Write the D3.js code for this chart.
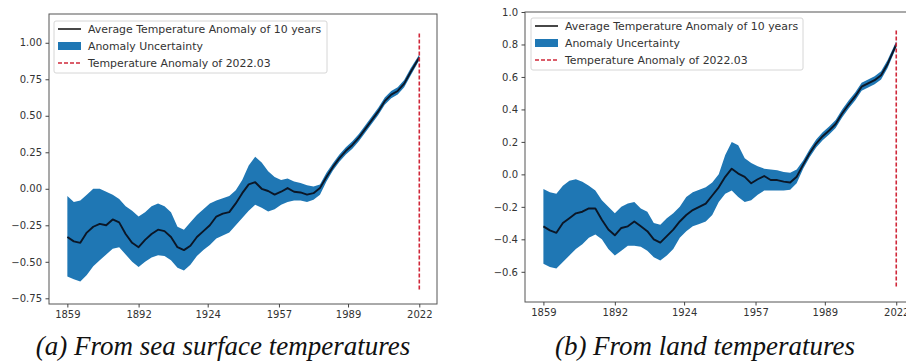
<!DOCTYPE html>
<html>
<head>
<meta charset="utf-8">
<script src="https://cdn.jsdelivr.net/npm/d3@7"></script>
<style>
  body { margin: 0; background: #fff; }
  svg { display: block; }
  .tick text { font-family: "DejaVu Sans", sans-serif; font-size: 10px; fill: #333; }
  .tick line { stroke: #444; }
  .legend text { font-family: "DejaVu Sans", sans-serif; font-size: 10.9px; fill: #333; }
  .caption { font-family: "Liberation Serif", "Times New Roman", serif; font-style: italic; font-size: 27px; fill: #111; }
</style>
</head>
<body>
<div id="chart"></div>
<script>
// sample years (every 3 years) shared by both panels
var years = [1859, 1862, 1865, 1868, 1871, 1874, 1877, 1880, 1883, 1886, 1889, 1892, 1895, 1898,
  1901, 1904, 1907, 1910, 1913, 1916, 1919, 1922, 1925, 1928, 1931, 1934, 1937, 1940, 1943,
  1946, 1949, 1952, 1955, 1958, 1961, 1964, 1967, 1970, 1973, 1976, 1979, 1982, 1985, 1988,
  1991, 1994, 1997, 2000, 2003, 2006, 2009, 2012, 2015, 2018, 2021, 2022];

// (a) sea surface temperatures
var seaMean = [-0.33, -0.36, -0.37, -0.30, -0.26, -0.24, -0.25, -0.21, -0.23, -0.31, -0.37, -0.40, -0.35, -0.31,
  -0.28, -0.29, -0.33, -0.40, -0.42, -0.39, -0.33, -0.29, -0.25, -0.19, -0.17, -0.16, -0.10, -0.03, 0.03,
  0.045, 0.0, -0.015, -0.04, -0.02, 0.005, -0.02, -0.025, -0.04, -0.03, 0.005, 0.08, 0.15, 0.21, 0.26,
  0.30, 0.35, 0.41, 0.47, 0.53, 0.60, 0.645, 0.67, 0.72, 0.80, 0.875, 0.90];
var seaHigh = [-0.05, -0.09, -0.08, -0.04, 0.0, 0.0, -0.02, -0.04, -0.07, -0.12, -0.15, -0.19, -0.16, -0.12,
  -0.10, -0.12, -0.16, -0.26, -0.28, -0.23, -0.18, -0.14, -0.10, -0.08, -0.065, -0.05, -0.01, 0.06, 0.16,
  0.22, 0.18, 0.12, 0.08, 0.06, 0.07, 0.05, 0.04, 0.025, 0.015, 0.03, 0.11, 0.175, 0.235, 0.285,
  0.325, 0.375, 0.435, 0.495, 0.555, 0.625, 0.67, 0.695, 0.745, 0.825, 0.895, 0.92];
var seaLow = [-0.60, -0.62, -0.635, -0.59, -0.53, -0.49, -0.45, -0.41, -0.40, -0.45, -0.50, -0.535, -0.50, -0.47,
  -0.455, -0.46, -0.49, -0.54, -0.56, -0.52, -0.46, -0.42, -0.385, -0.34, -0.32, -0.30, -0.25, -0.20, -0.15,
  -0.11, -0.13, -0.155, -0.14, -0.11, -0.09, -0.08, -0.08, -0.09, -0.075, -0.04, 0.05, 0.125, 0.185, 0.235,
  0.275, 0.325, 0.385, 0.445, 0.505, 0.575, 0.62, 0.645, 0.695, 0.775, 0.855, 0.88];

// (b) land temperatures
var landMean = [-0.32, -0.345, -0.36, -0.30, -0.27, -0.24, -0.23, -0.21, -0.21, -0.28, -0.34, -0.375, -0.33, -0.32,
  -0.29, -0.32, -0.35, -0.40, -0.42, -0.38, -0.34, -0.29, -0.25, -0.22, -0.20, -0.18, -0.13, -0.08, -0.015,
  0.035, 0.005, -0.015, -0.055, -0.03, -0.01, -0.035, -0.035, -0.045, -0.05, -0.015, 0.06, 0.13, 0.19, 0.235,
  0.27, 0.31, 0.375, 0.43, 0.48, 0.54, 0.56, 0.58, 0.61, 0.68, 0.77, 0.80];
var landHigh = [-0.09, -0.11, -0.12, -0.07, -0.04, -0.03, -0.045, -0.07, -0.10, -0.16, -0.20, -0.24, -0.20, -0.18,
  -0.17, -0.21, -0.23, -0.30, -0.31, -0.27, -0.24, -0.20, -0.14, -0.11, -0.095, -0.08, -0.05, 0.0, 0.12,
  0.20, 0.18, 0.10, 0.07, 0.05, 0.035, 0.03, 0.025, 0.015, 0.01, 0.03, 0.085, 0.155, 0.215, 0.26,
  0.295, 0.335, 0.40, 0.455, 0.505, 0.565, 0.585, 0.605, 0.635, 0.705, 0.79, 0.82];
var landLow = [-0.55, -0.57, -0.58, -0.54, -0.50, -0.46, -0.43, -0.39, -0.37, -0.40, -0.46, -0.50, -0.47, -0.44,
  -0.44, -0.445, -0.47, -0.51, -0.53, -0.50, -0.46, -0.39, -0.35, -0.32, -0.305, -0.29, -0.25, -0.17, -0.12,
  -0.10, -0.14, -0.17, -0.16, -0.125, -0.10, -0.10, -0.10, -0.10, -0.095, -0.055, 0.035, 0.105, 0.165, 0.21,
  0.245, 0.285, 0.35, 0.405, 0.455, 0.515, 0.535, 0.555, 0.585, 0.655, 0.75, 0.78];

var xTicks = [1859, 1892, 1924, 1957, 1989, 2022];
var seaYTicks = [-0.75, -0.50, -0.25, 0.00, 0.25, 0.50, 0.75, 1.00];
var landYTicks = [-0.6, -0.4, -0.2, 0.0, 0.2, 0.4, 0.6, 0.8, 1.0];
var markYear = 2022;
var seaMark = [-0.69, 1.07];
var landMark = [-0.69, 0.89];
var legendLabels = ["Average Temperature Anomaly of 10 years", "Anomaly Uncertainty", "Temperature Anomaly of 2022.03"];
var captions = ["(a) From sea surface temperatures", "(b) From land temperatures"];

var svg = d3.select("#chart").append("svg")
  .attr("width", 906)
  .attr("height", 362);

function drawPanel(opt) {
  var g = svg.append("g");

  var x = d3.scaleLinear().domain([1850.5, 2030.2]).range([opt.left, opt.right]);
  var y = d3.scaleLinear().domain(opt.yDomain).range([opt.bottom, opt.top]);

  var rows = years.map(function(yr, i) {
    return { year: yr, mean: opt.mean[i], hi: opt.high[i], lo: opt.low[i] };
  });

  // uncertainty band
  g.append("path")
    .datum(rows)
    .attr("d", d3.area().x(d => x(d.year)).y0(d => y(d.lo)).y1(d => y(d.hi)))
    .attr("fill", "#1f77b4");

  // 10 year average
  g.append("path")
    .datum(rows)
    .attr("d", d3.line().x(d => x(d.year)).y(d => y(d.mean)))
    .attr("fill", "none")
    .attr("stroke", "#0b1626")
    .attr("stroke-width", 1.9)
    .attr("stroke-linejoin", "round");

  // marker for 2022.03
  g.append("line")
    .attr("x1", x(markYear)).attr("x2", x(markYear))
    .attr("y1", y(opt.mark[0])).attr("y2", y(opt.mark[1]))
    .attr("stroke", "#d0283a")
    .attr("stroke-width", 1.6)
    .attr("stroke-dasharray", "4,2");

  // frame
  g.append("rect")
    .attr("x", opt.left).attr("y", opt.top)
    .attr("width", opt.right - opt.left).attr("height", opt.bottom - opt.top)
    .attr("fill", "none").attr("stroke", "#555").attr("stroke-width", 1);

  var xAxis = g.append("g")
    .attr("transform", "translate(0," + opt.bottom + ")")
    .call(d3.axisBottom(x).tickValues(xTicks).tickFormat(d3.format("d")).tickSize(3.5).tickPadding(3));
  xAxis.select(".domain").remove();

  var yAxis = g.append("g")
    .attr("transform", "translate(" + opt.left + ",0)")
    .call(d3.axisLeft(y).tickValues(opt.yTicks).tickFormat(d3.format(opt.fmt)).tickSize(3.5).tickPadding(3.5));
  yAxis.select(".domain").remove();

  // legend
  var lg = g.append("g").attr("class", "legend")
    .attr("transform", "translate(" + opt.legend[0] + "," + opt.legend[1] + ")");
  lg.append("rect")
    .attr("width", opt.legend[2]).attr("height", 52)
    .attr("rx", 2)
    .attr("fill", "#fff").attr("fill-opacity", 0.8)
    .attr("stroke", "#d6d6d6");
  lg.append("line").attr("x1", 4).attr("x2", 27).attr("y1", 8).attr("y2", 8)
    .attr("stroke", "#333").attr("stroke-width", 1.8);
  lg.append("rect").attr("x", 4).attr("y", 21).attr("width", 23).attr("height", 8)
    .attr("fill", "#1f77b4");
  lg.append("line").attr("x1", 4).attr("x2", 27).attr("y1", 42).attr("y2", 42)
    .attr("stroke", "#d0283a").attr("stroke-width", 1.4).attr("stroke-dasharray", "4,2");
  lg.selectAll("text.lab")
    .data(legendLabels)
    .enter().append("text")
    .attr("class", "lab")
    .attr("x", 34)
    .attr("y", (d, i) => 8 + i * 17)
    .attr("dy", "0.35em")
    .text(d => d);

  svg.append("text")
    .attr("class", "caption")
    .attr("x", opt.capX).attr("y", 355)
    .attr("text-anchor", "middle")
    .text(opt.caption);
}

drawPanel({
  left: 49, right: 437, top: 14, bottom: 304,
  yDomain: [-0.789, 1.197], yTicks: seaYTicks, fmt: ".2f",
  mean: seaMean, high: seaHigh, low: seaLow, mark: seaMark,
  legend: [54, 21, 273], caption: captions[0], capX: 223
});

drawPanel({
  left: 525, right: 914, top: 12, bottom: 302,
  yDomain: [-0.786, 1.0], yTicks: landYTicks, fmt: ".1f",
  mean: landMean, high: landHigh, low: landLow, mark: landMark,
  legend: [531, 18, 272], caption: captions[1], capX: 705
});
</script>
</body>
</html>
